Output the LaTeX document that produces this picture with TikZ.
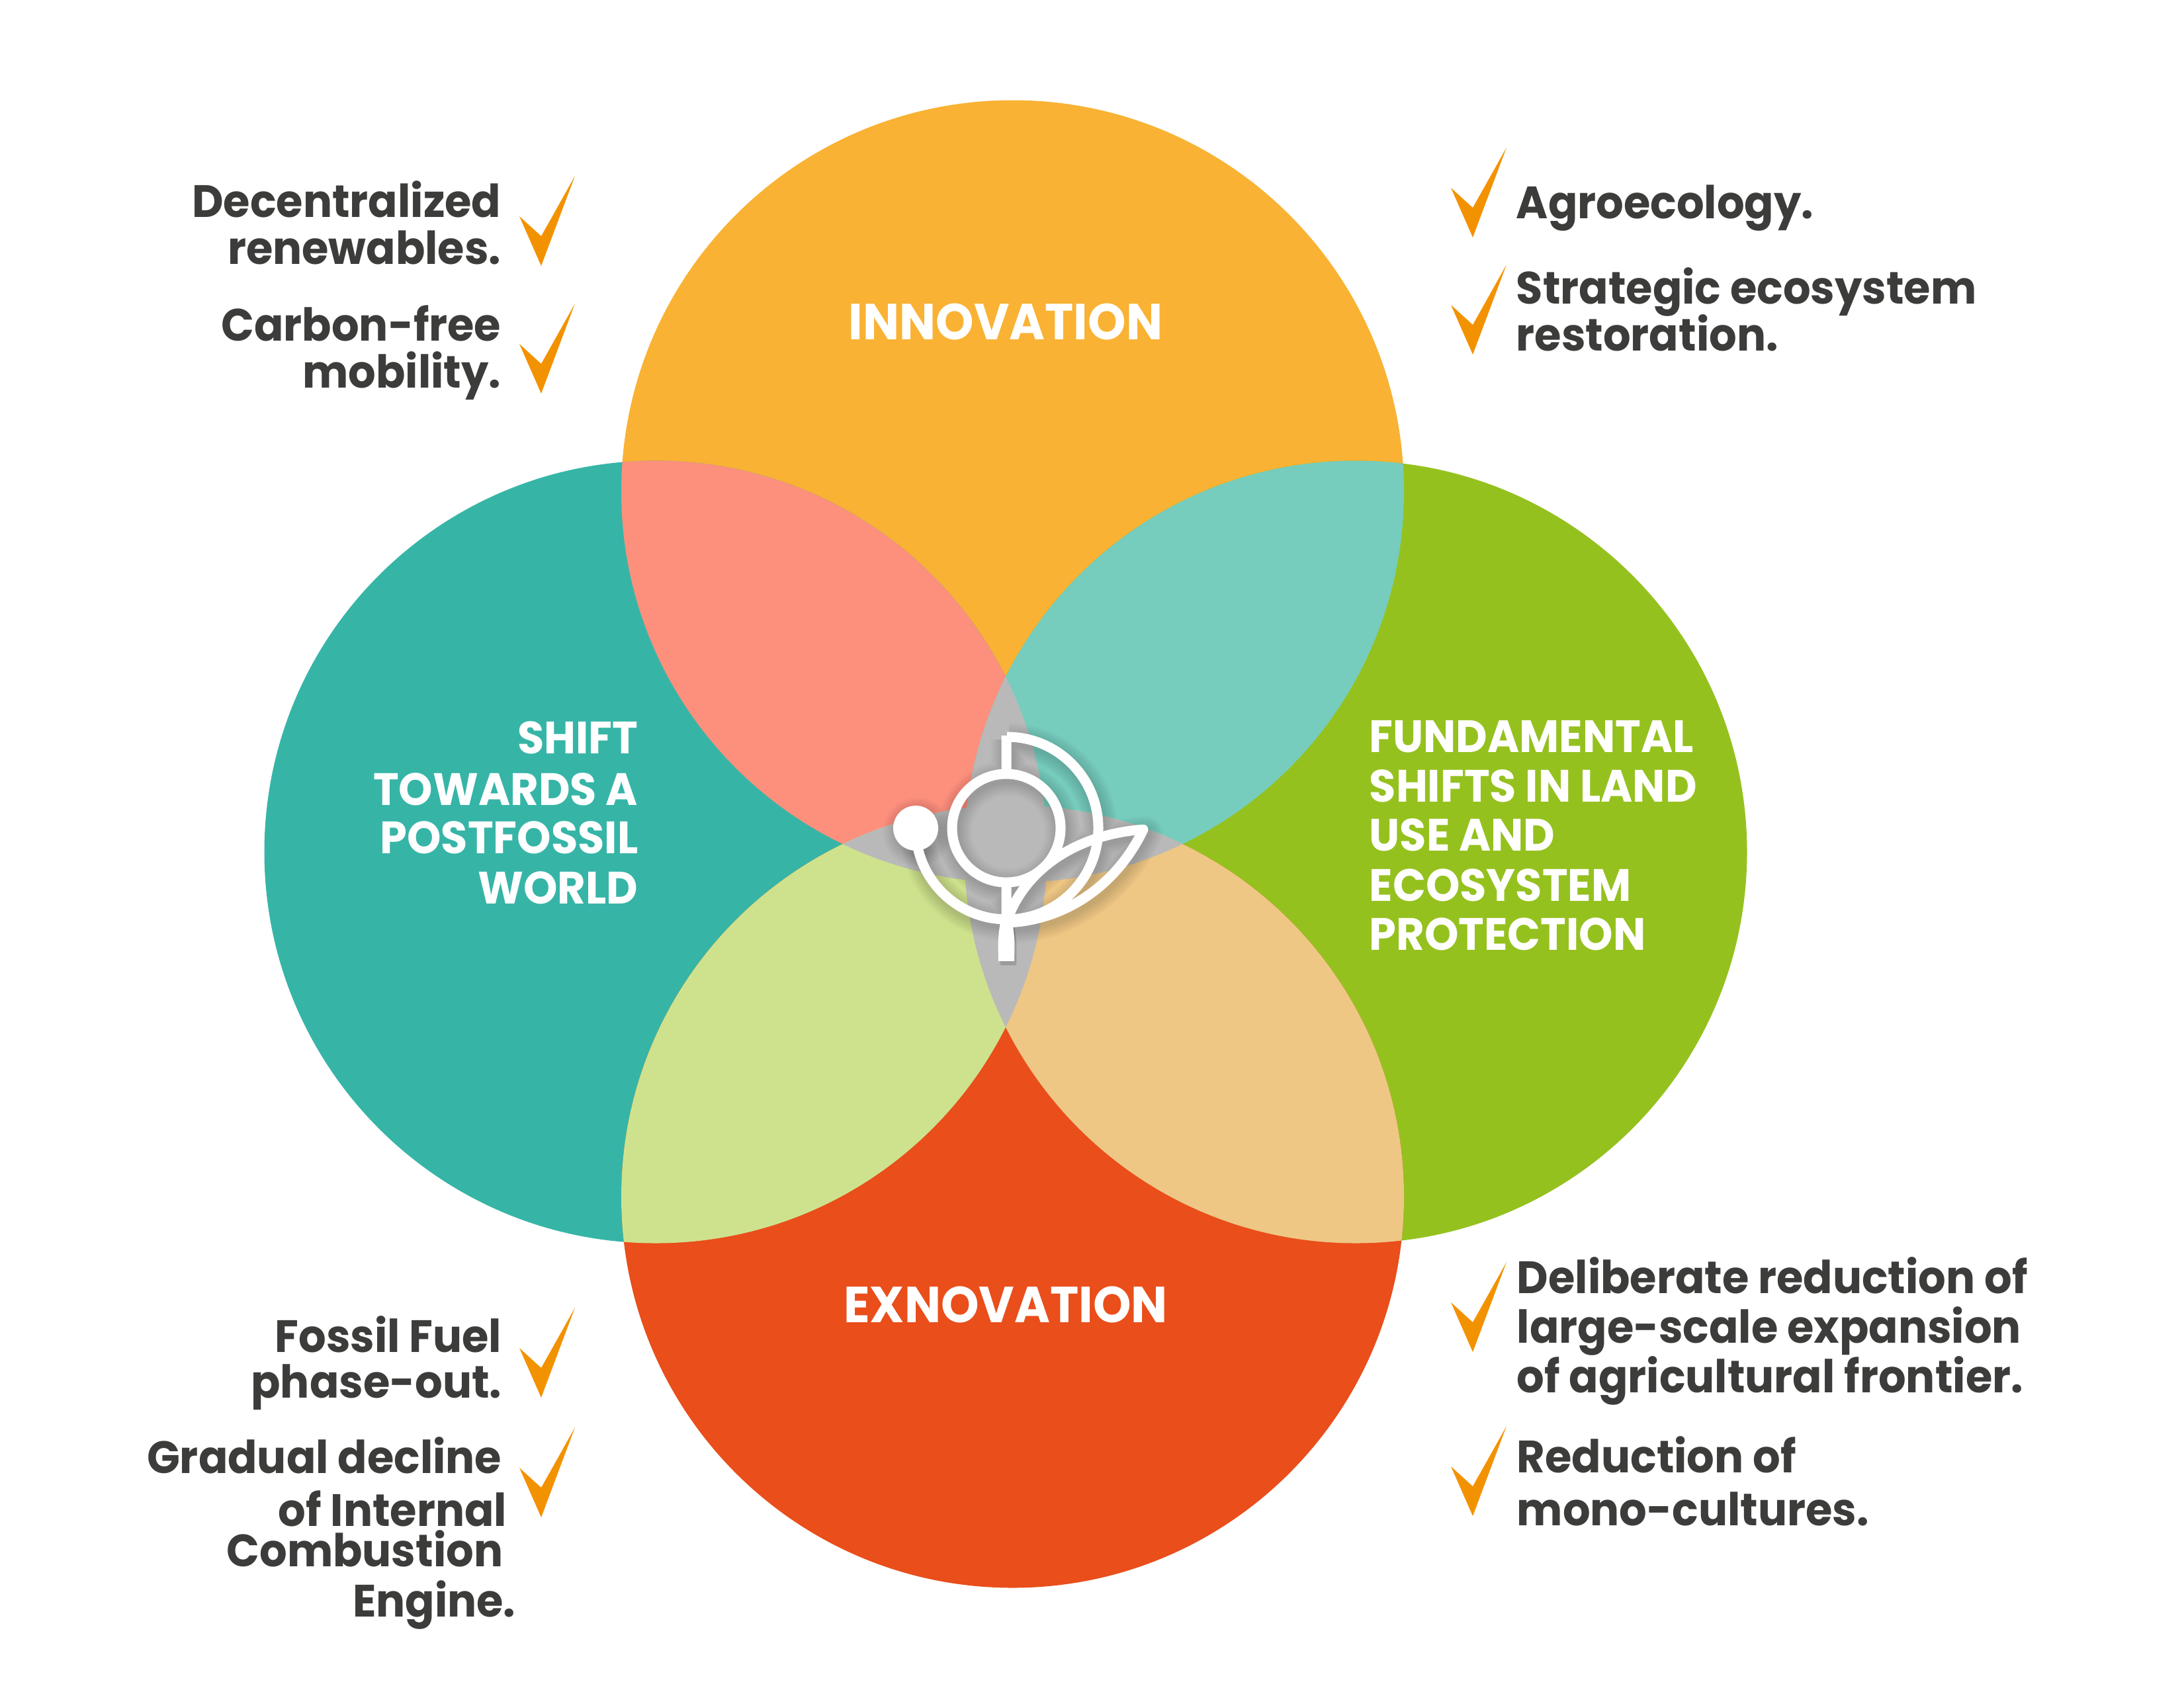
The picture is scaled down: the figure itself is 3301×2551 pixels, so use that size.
\documentclass[tikz,border=0pt]{standalone}
\usepackage{fontspec}
\setmainfont{Poppins}[FakeStretch=0.955]
\usetikzlibrary{positioning}

\definecolor{innovorange}{HTML}{F9B233}
\definecolor{shiftteal}{HTML}{36B5A7}
\definecolor{landgreen}{HTML}{95C11F}
\definecolor{exnovred}{HTML}{E94E1B}
\definecolor{mixpink}{HTML}{FC907C}
\definecolor{mixteal}{HTML}{76CDBD}
\definecolor{mixgreen}{HTML}{CEE28E}
\definecolor{mixtan}{HTML}{EEC785}
\definecolor{coregrey}{HTML}{B9B9B9}
\definecolor{listgrey}{HTML}{3C3C3B}
\definecolor{tickorange}{HTML}{F39200}

\tikzset{
	listtext/.style={text=listgrey, font=\fontsize{19.5}{24}\selectfont\bfseries, inner sep=0pt},
	listleft/.style={listtext, anchor=base west},
	listright/.style={listtext, anchor=base east},
	headtext/.style={text=white, font=\fontsize{19.5}{24}\selectfont\bfseries, inner sep=0pt},
	titletext/.style={headtext, anchor=base, font=\fontsize{21.8}{26}\selectfont\bfseries},
	tickmark/.pic={\fill [tickorange] (0,0) -- (-51,91) -- (-84,61) -- (-51,136) -- cycle;}
}

\newcommand{\circtop}{(1530.5,743) circle (591.5)}
\newcommand{\circbot}{(1530.5,1809) circle (591.5)}
\newcommand{\circlef}{(991,1288) circle (591.5)}
\newcommand{\circrig}{(2049,1288) circle (591.5)}
\newcommand{\logoline}{
	(1521,1112) -- (1521,1170)
	(1521,1335) -- (1521,1395)
	(1384,1252) arc [start angle=180, end angle=-90, radius=138]
	(1521,1395) .. controls (1545,1320) and (1620,1262) .. (1728,1254)
	.. controls (1688,1338) and (1610,1392) .. (1521,1395)
	(1521,1252) circle (82)
}
\newcommand{\logostem}{(1512,1395) .. controls (1507,1420) and (1509,1440) .. (1509,1453) -- (1533,1453) .. controls (1533,1440) and (1535,1420) .. (1530,1395) -- cycle}

\begin{document}
\begin{tikzpicture}[x=0.01cm, y=-0.01cm]
	\useasboundingbox (0,0) rectangle (3301,2551);

	% circulos
	\fill [innovorange] \circtop;
	\fill [shiftteal] \circlef;
	\fill [landgreen] \circrig;
	\fill [exnovred] \circbot;

	% cruces
	\begin{scope}
		\clip \circtop;
		\fill [mixpink] \circlef;
		\fill [mixteal] \circrig;
	\end{scope}
	\begin{scope}
		\clip \circbot;
		\fill [mixgreen] \circlef;
		\fill [mixtan] \circrig;
	\end{scope}
	\begin{scope}
		\clip \circtop;
		\fill [coregrey] \circbot;
	\end{scope}
	\begin{scope}
		\clip \circlef;
		\fill [coregrey] \circrig;
	\end{scope}

	% sombra
	\foreach \w in {17,21,...,53} {
		\draw [shift={(3,6)}, black, opacity=0.016, line width=\w*0.01cm, line join=round] \logoline;
		\fill [shift={(3,6)}, black, opacity=0.016] (1384,1252) circle (26+\w/2) \logostem;
	}

	% logo
	\draw [white, line width=0.15cm, line join=round] \logoline;
	\fill [white] (1384,1252) circle (34) \logostem;

	% titulos
	\node [titletext] (innov) at (1520,513) {INNOVATION};
	\node [titletext] (exnov) at (1520,1999) {EXNOVATION};

	\node [headtext, anchor=base east] (shifta) at (965,1139) {SHIFT};
	\node [headtext, anchor=base east] (shiftb) at (965,1217) {TOWARDS A};
	\node [headtext, anchor=base east] (shiftc) at (965,1290) {POSTFOSSIL};
	\node [headtext, anchor=base east] (shiftd) at (965,1366) {WORLD};

	\node [headtext, anchor=base west] (landa) at (2069,1137) {FUNDAMENTAL};
	\node [headtext, anchor=base west] (landb) at (2069,1212) {SHIFTS IN LAND};
	\node [headtext, anchor=base west] (landc) at (2069,1286) {USE AND};
	\node [headtext, anchor=base west] (landd) at (2069,1362) {ECOSYSTEM};
	\node [headtext, anchor=base west] (lande) at (2069,1436) {PROTECTION};

	% listas
	\node [listright] (deca) at (758,328) {Decentralized};
	\node [listright] (decb) at (758,399) {renewables.};
	\node [listright] (cara) at (758,515) {Carbon-free};
	\node [listright] (carb) at (758,586) {mobility.};

	\node [listleft] (agro) at (2291,330) {Agroecology.};
	\node [listleft] (stra) at (2291,459) {Strategic ecosystem};
	\node [listleft] (strb) at (2291,530) {restoration.};

	\node [listright] (fosa) at (759,2044) {Fossil Fuel};
	\node [listright] (fosb) at (759,2113) {phase-out.};
	\node [listright] (grada) at (759,2227) {Gradual decline};
	\node [listright] (gradb) at (767,2307) {of Internal};
	\node [listright] (gradc) at (761,2368) {Combustion};
	\node [listright] (gradd) at (780,2444) {Engine.};

	\node [listleft] (dela) at (2292,1955) {Deliberate reduction of};
	\node [listleft] (delb) at (2292,2030) {large-scale expansion};
	\node [listleft] (delc) at (2292,2105) {of agricultural frontier.};
	\node [listleft] (reda) at (2292,2226) {Reduction of};
	\node [listleft] (redb) at (2292,2306) {mono-cultures.};

	% marcas
	\foreach \px/\py in {869/266, 869/459, 869/1977, 869/2158, 2277/223, 2277/400, 2277/1908, 2277/2156} {
		\pic at (\px,\py) {tickmark};
	}
\end{tikzpicture}
\end{document}
